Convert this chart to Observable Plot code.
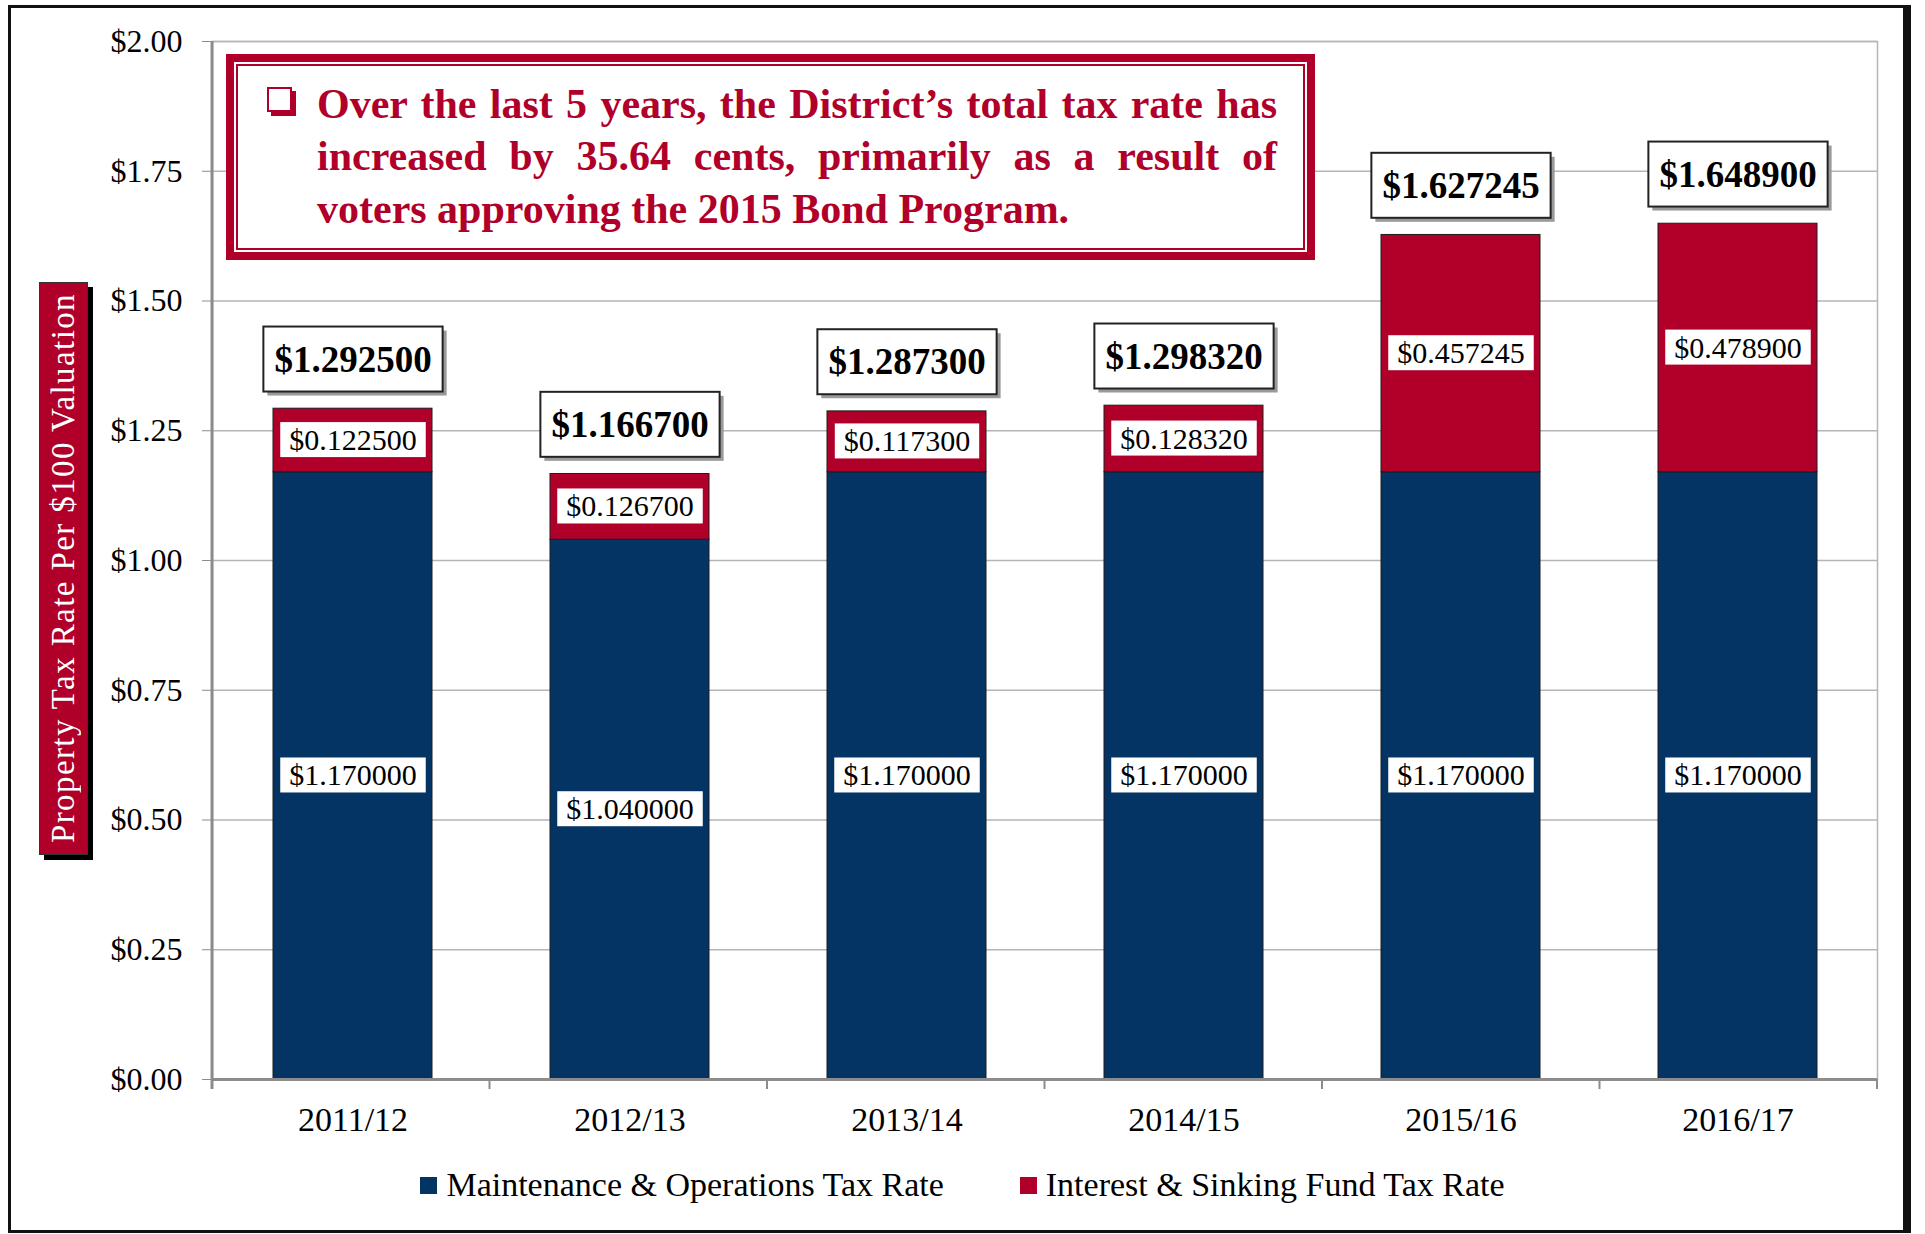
<!DOCTYPE html>
<html><head><meta charset="utf-8">
<script src="https://cdn.jsdelivr.net/npm/d3@7"></script>
<script src="https://cdn.jsdelivr.net/npm/@observablehq/plot@0.6"></script>
<style>
body{margin:0;background:#fff;}
#wrap{position:relative;width:1925px;height:1234px;overflow:hidden;font-family:"Liberation Serif",serif;background:#fff;}
#wrap svg{position:absolute;left:0;top:0;}
#frame{position:absolute;left:8px;top:5px;width:1903px;height:1228px;box-sizing:border-box;border:3px solid #111;border-right-width:8px;pointer-events:none;}
#ylab{position:absolute;left:39px;top:282px;width:49px;height:573px;box-sizing:border-box;background:#B0002A;border:1px solid #333;box-shadow:5px 5px 0 #000;display:flex;align-items:center;justify-content:center;}
#ylab span{writing-mode:vertical-rl;transform:rotate(180deg);color:#fff;font-size:33px;letter-spacing:1.4px;white-space:nowrap;}
#note{position:absolute;left:226px;top:54px;width:1089px;height:206px;box-sizing:border-box;border:8px solid #B0002A;background:#fff;box-shadow:inset 0 0 0 2px #fff, inset 0 0 0 4px #B0002A;}
#bullet{position:absolute;left:267px;top:87px;width:25px;height:25px;box-sizing:border-box;border:2.5px solid #B0002A;box-shadow:4px 4px 0 #B0002A;background:#fff;}
#notetext{position:absolute;left:317px;top:77.6px;width:960px;color:#B0002A;font-weight:bold;font-size:42px;}
#notetext div{line-height:52.5px;height:52.5px;white-space:nowrap;text-align:left;}
#notetext div.j{text-align:justify;text-align-last:justify;}
#legend{position:absolute;left:0;top:1165px;width:1925px;display:flex;justify-content:center;gap:76px;font-size:34px;line-height:40px;}
#legend .it{display:flex;align-items:center;}
#legend .sw{width:17px;height:17px;margin-right:9px;}
</style></head><body><div id="wrap"></div>
<script>
const years = ["2011/12", "2012/13", "2013/14", "2014/15", "2015/16", "2016/17"];
const moRates = [1.17, 1.04, 1.17, 1.17, 1.17, 1.17];
const isRates = [0.1225, 0.1267, 0.1173, 0.12832, 0.457245, 0.4789];
const totalRates = [1.2925, 1.1667, 1.2873, 1.29832, 1.627245, 1.6489];
const seriesNames = ["Maintenance & Operations Tax Rate", "Interest & Sinking Fund Tax Rate"];
const seriesColors = ["#033463", "#B0002A"];
const yTicks = [0, 0.25, 0.5, 0.75, 1, 1.25, 1.5, 1.75, 2];
const axisTitle = "Property Tax Rate Per $100 Valuation";
const noteLines = [
  "Over the last 5 years, the District\u2019s total tax rate has",
  "increased by 35.64 cents, primarily as a result of",
  "voters approving the 2015 Bond Program."
];

const rows = years.flatMap((y, i) => [
  {year: y, series: seriesNames[0], value: moRates[i], base: 0},
  {year: y, series: seriesNames[1], value: isRates[i], base: moRates[i]}
]);
const totals = years.map((y, i) => ({year: y, total: totalRates[i]}));
const fmt = v => "$" + v.toFixed(6);

const chart = Plot.plot({
  width: 1925, height: 1150,
  marginLeft: 212, marginRight: 48, marginTop: 41, marginBottom: 71,
  style: {fontFamily: "Liberation Serif, serif", fontSize: "32px", color: "#000", background: "transparent", overflow: "visible"},
  x: {domain: years, paddingInner: 0.427, paddingOuter: 0.2135, label: null},
  y: {domain: [0, 2], label: null},
  color: {domain: seriesNames, range: seriesColors},
  marks: [
    Plot.frame({stroke: "#b5b5b5", strokeWidth: 1.5}),
    Plot.gridY(yTicks, {stroke: "#b5b5b5", strokeOpacity: 1, strokeWidth: 1.5}),
    Plot.barY(rows, {x: "year", y: "value", fill: "series", stroke: "#1d1d1d", strokeWidth: 1}),
    Plot.ruleY([0], {stroke: "#8c8c8c", strokeWidth: 3}),
    Plot.axisY(yTicks, {tickFormat: d => "$" + d.toFixed(2), tickSize: 10, tickPadding: 20, stroke: "#8c8c8c", fontSize: 32, label: null}),
    Plot.axisX({tickSize: 0, tickPadding: 27, fontSize: 34, label: null}),
    Plot.text(rows, {x: "year", y: d => d.base + d.value / 2, text: d => fmt(d.value), fontSize: 30, fill: "#000"}),
    Plot.text(totals, {x: "year", y: "total", dy: -49, text: d => fmt(d.total), fontSize: 37, fontWeight: "bold", fill: "#000"})
  ]
});

const wrap = document.getElementById("wrap");
wrap.appendChild(chart);

const xs = chart.scale("x"), ys = chart.scale("y");
const svg = d3.select(chart);
const [r0, r1] = xs.range;
const yBase = ys.apply(0), yTop = ys.apply(2);
svg.append("line").attr("x1", r0).attr("x2", r0).attr("y1", yTop).attr("y2", yBase + 10)
  .attr("stroke", "#8c8c8c").attr("stroke-width", 3);
d3.range(years.length + 1).forEach(i => {
  const x = r0 + i * (r1 - r0) / years.length;
  svg.append("line").attr("x1", x).attr("x2", x).attr("y1", yBase).attr("y2", yBase + 10)
    .attr("stroke", "#8c8c8c").attr("stroke-width", 2);
});

const textGroups = svg.selectAll('g[aria-label="text"]').nodes();
d3.select(textGroups[0]).selectAll("text").each(function() {
  const b = this.getBBox();
  const px = 9, py = 1;
  d3.select(this.parentNode).insert("rect", () => this)
    .attr("transform", this.getAttribute("transform"))
    .attr("x", b.x - px).attr("y", b.y - py).attr("width", b.width + 2 * px).attr("height", b.height + 2 * py)
    .attr("fill", "#fff");
});
d3.select(textGroups[1]).selectAll("text").each(function() {
  const b = this.getBBox();
  const px = 11, py = 12;
  const tr = this.getAttribute("transform");
  const p = d3.select(this.parentNode);
  p.insert("rect", () => this).attr("transform", tr)
    .attr("x", b.x - px + 4).attr("y", b.y - py + 4).attr("width", b.width + 2 * px).attr("height", b.height + 2 * py)
    .attr("fill", "#9a9a9a");
  p.insert("rect", () => this).attr("transform", tr)
    .attr("x", b.x - px).attr("y", b.y - py).attr("width", b.width + 2 * px).attr("height", b.height + 2 * py)
    .attr("fill", "#fff").attr("stroke", "#222").attr("stroke-width", 2);
});

// y-axis title box
const ylab = document.createElement("div");
ylab.id = "ylab";
ylab.innerHTML = "<span></span>";
ylab.querySelector("span").textContent = axisTitle;
wrap.appendChild(ylab);

// annotation
const note = document.createElement("div"); note.id = "note"; wrap.appendChild(note);
const bullet = document.createElement("div"); bullet.id = "bullet"; wrap.appendChild(bullet);
const nt = document.createElement("div"); nt.id = "notetext";
noteLines.forEach((t, i) => {
  const d = document.createElement("div");
  if (i < noteLines.length - 1) d.className = "j";
  d.textContent = t;
  nt.appendChild(d);
});
wrap.appendChild(nt);

// legend
const lg = document.createElement("div"); lg.id = "legend";
seriesNames.forEach((n, i) => {
  const it = document.createElement("div"); it.className = "it";
  const sw = document.createElement("div"); sw.className = "sw"; sw.style.background = seriesColors[i];
  const tx = document.createElement("span"); tx.textContent = n;
  it.appendChild(sw); it.appendChild(tx); lg.appendChild(it);
});
wrap.appendChild(lg);

const frame = document.createElement("div"); frame.id = "frame"; wrap.appendChild(frame);
</script></body></html>
